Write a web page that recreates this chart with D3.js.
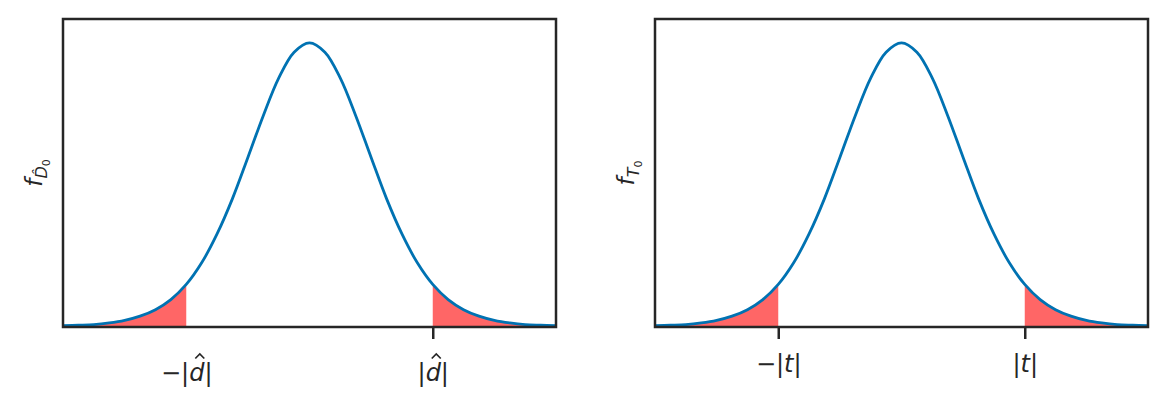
<!DOCTYPE html>
<html>
<head>
<meta charset="utf-8">
<script src="https://cdn.jsdelivr.net/npm/d3@7"></script>
<style>
  body { margin: 0; background: #fff; }
  svg { display: block; }
</style>
</head>
<body>
<svg id="chart" width="1167" height="411"></svg>
<script>
// values (symmetric bell curve, heavy-ish tails)
var xGrid = [-4, -3.75, -3.5, -3.25, -3, -2.75, -2.5, -2.25, -2, -1.75, -1.5, -1.25, -1, -0.75, -0.5, -0.25,
  0, 0.25, 0.5, 0.75, 1, 1.25, 1.5, 1.75, 2, 2.25, 2.5, 2.75, 3, 3.25, 3.5, 3.75, 4];
var density = [0.0017, 0.0024, 0.0033, 0.0056, 0.0092, 0.015, 0.024, 0.038, 0.059, 0.089, 0.129, 0.178, 0.235, 0.293, 0.345, 0.381,
  0.394, 0.381, 0.345, 0.293, 0.235, 0.178, 0.129, 0.089, 0.059, 0.038, 0.024, 0.015, 0.0092, 0.0056, 0.0033, 0.0024, 0.0017];
var xDomain = [-4, 4];
var yDomain = [0, 0.427];
var critical = [-2, 2];
var leftTickLabels = ["\u2212|d\u0302|", "|d\u0302|"];
var rightTickLabels = ["\u2212|t|", "|t|"];

(function () {
  var FONT = "'DejaVu Sans', sans-serif";
  var INK = "#262626";
  var HAT = "\u0302";
  var svg = d3.select("#chart");
  var points = xGrid.map(function (x, i) { return {x: x, y: density[i]}; });

  var panels = [
    {x0: 63, x1: 556, ticks: leftTickLabels, tickMarks: [false, true], sub: "D\u0302", labelX: 42, textY: 54},
    {x0: 655, x1: 1148, ticks: rightTickLabels, tickMarks: [true, true], sub: "T", labelX: 634, textY: 45}
  ];
  var plotTop = 19, plotBottom = 327;

  panels.forEach(function (p) {
    var x = d3.scaleLinear().domain(xDomain).range([p.x0, p.x1]);
    var y = d3.scaleLinear().domain(yDomain).range([plotBottom, plotTop]);
    var g = svg.append("g");

    var area = d3.area()
      .x(function (d) { return x(d.x); })
      .y0(y(0))
      .y1(function (d) { return y(d.y); })
      .curve(d3.curveCatmullRom);

    var lowTail = points.filter(function (d) { return d.x <= critical[0]; });
    var highTail = points.filter(function (d) { return d.x >= critical[1]; });
    [lowTail, highTail].forEach(function (tail) {
      g.append("path").attr("d", area(tail)).attr("fill", "#ff6666");
    });

    var line = d3.line()
      .x(function (d) { return x(d.x); })
      .y(function (d) { return y(d.y); })
      .curve(d3.curveCatmullRom);
    g.append("path").attr("d", line(points))
      .attr("fill", "none").attr("stroke", "#0072b2").attr("stroke-width", 2.8);

    g.append("rect")
      .attr("x", p.x0).attr("y", plotTop)
      .attr("width", p.x1 - p.x0).attr("height", plotBottom - plotTop)
      .attr("fill", "none").attr("stroke", INK).attr("stroke-width", 2.5);

    var axis = d3.axisBottom(x)
      .tickValues(critical)
      .tickSize(12)
      .tickFormat(function (d, i) { return p.ticks[i].replace(HAT, ""); });
    var ax = g.append("g").attr("transform", "translate(0," + plotBottom + ")").call(axis);
    ax.select(".domain").remove();
    ax.selectAll(".tick line")
      .attr("stroke", INK).attr("stroke-width", 2.5)
      .attr("opacity", function (d, i) { return p.tickMarks[i] ? 1 : 0; });
    ax.selectAll(".tick text")
      .attr("y", p.textY).attr("dy", 0)
      .attr("fill", INK)
      .style("font-family", FONT)
      .style("font-size", "24px").style("font-style", "italic");

    // draw a hat over the letter that carries the combining circumflex
    ax.selectAll(".tick").each(function (d, i) {
      var label = p.ticks[i];
      var at = label.indexOf(HAT);
      if (at < 1) return;
      var box = d3.select(this).select("text").node().getExtentOfChar(at - 1);
      var cx = box.x + box.width / 2 + 3, cy = box.y - 5;
      d3.select(this).append("path")
        .attr("d", "M" + (cx - 4.5) + "," + (cy + 4.5) + "L" + cx + "," + cy + "L" + (cx + 4.5) + "," + (cy + 4.5))
        .attr("fill", "none").attr("stroke", INK).attr("stroke-width", 1.7);
    });

    var lab = g.append("text")
      .attr("transform", "translate(" + p.labelX + "," + (plotTop + plotBottom) / 2 + ") rotate(-90)")
      .attr("text-anchor", "middle")
      .attr("fill", INK)
      .style("font-family", FONT)
      .style("font-size", "23px");
    lab.append("tspan").style("font-style", "italic").text("f");
    lab.append("tspan").style("font-style", "italic").style("font-size", "16px").attr("dy", 5).text(p.sub);
    lab.append("tspan").style("font-size", "11px").attr("dy", 3).text("0");
  });
})();
</script>
</body>
</html>
